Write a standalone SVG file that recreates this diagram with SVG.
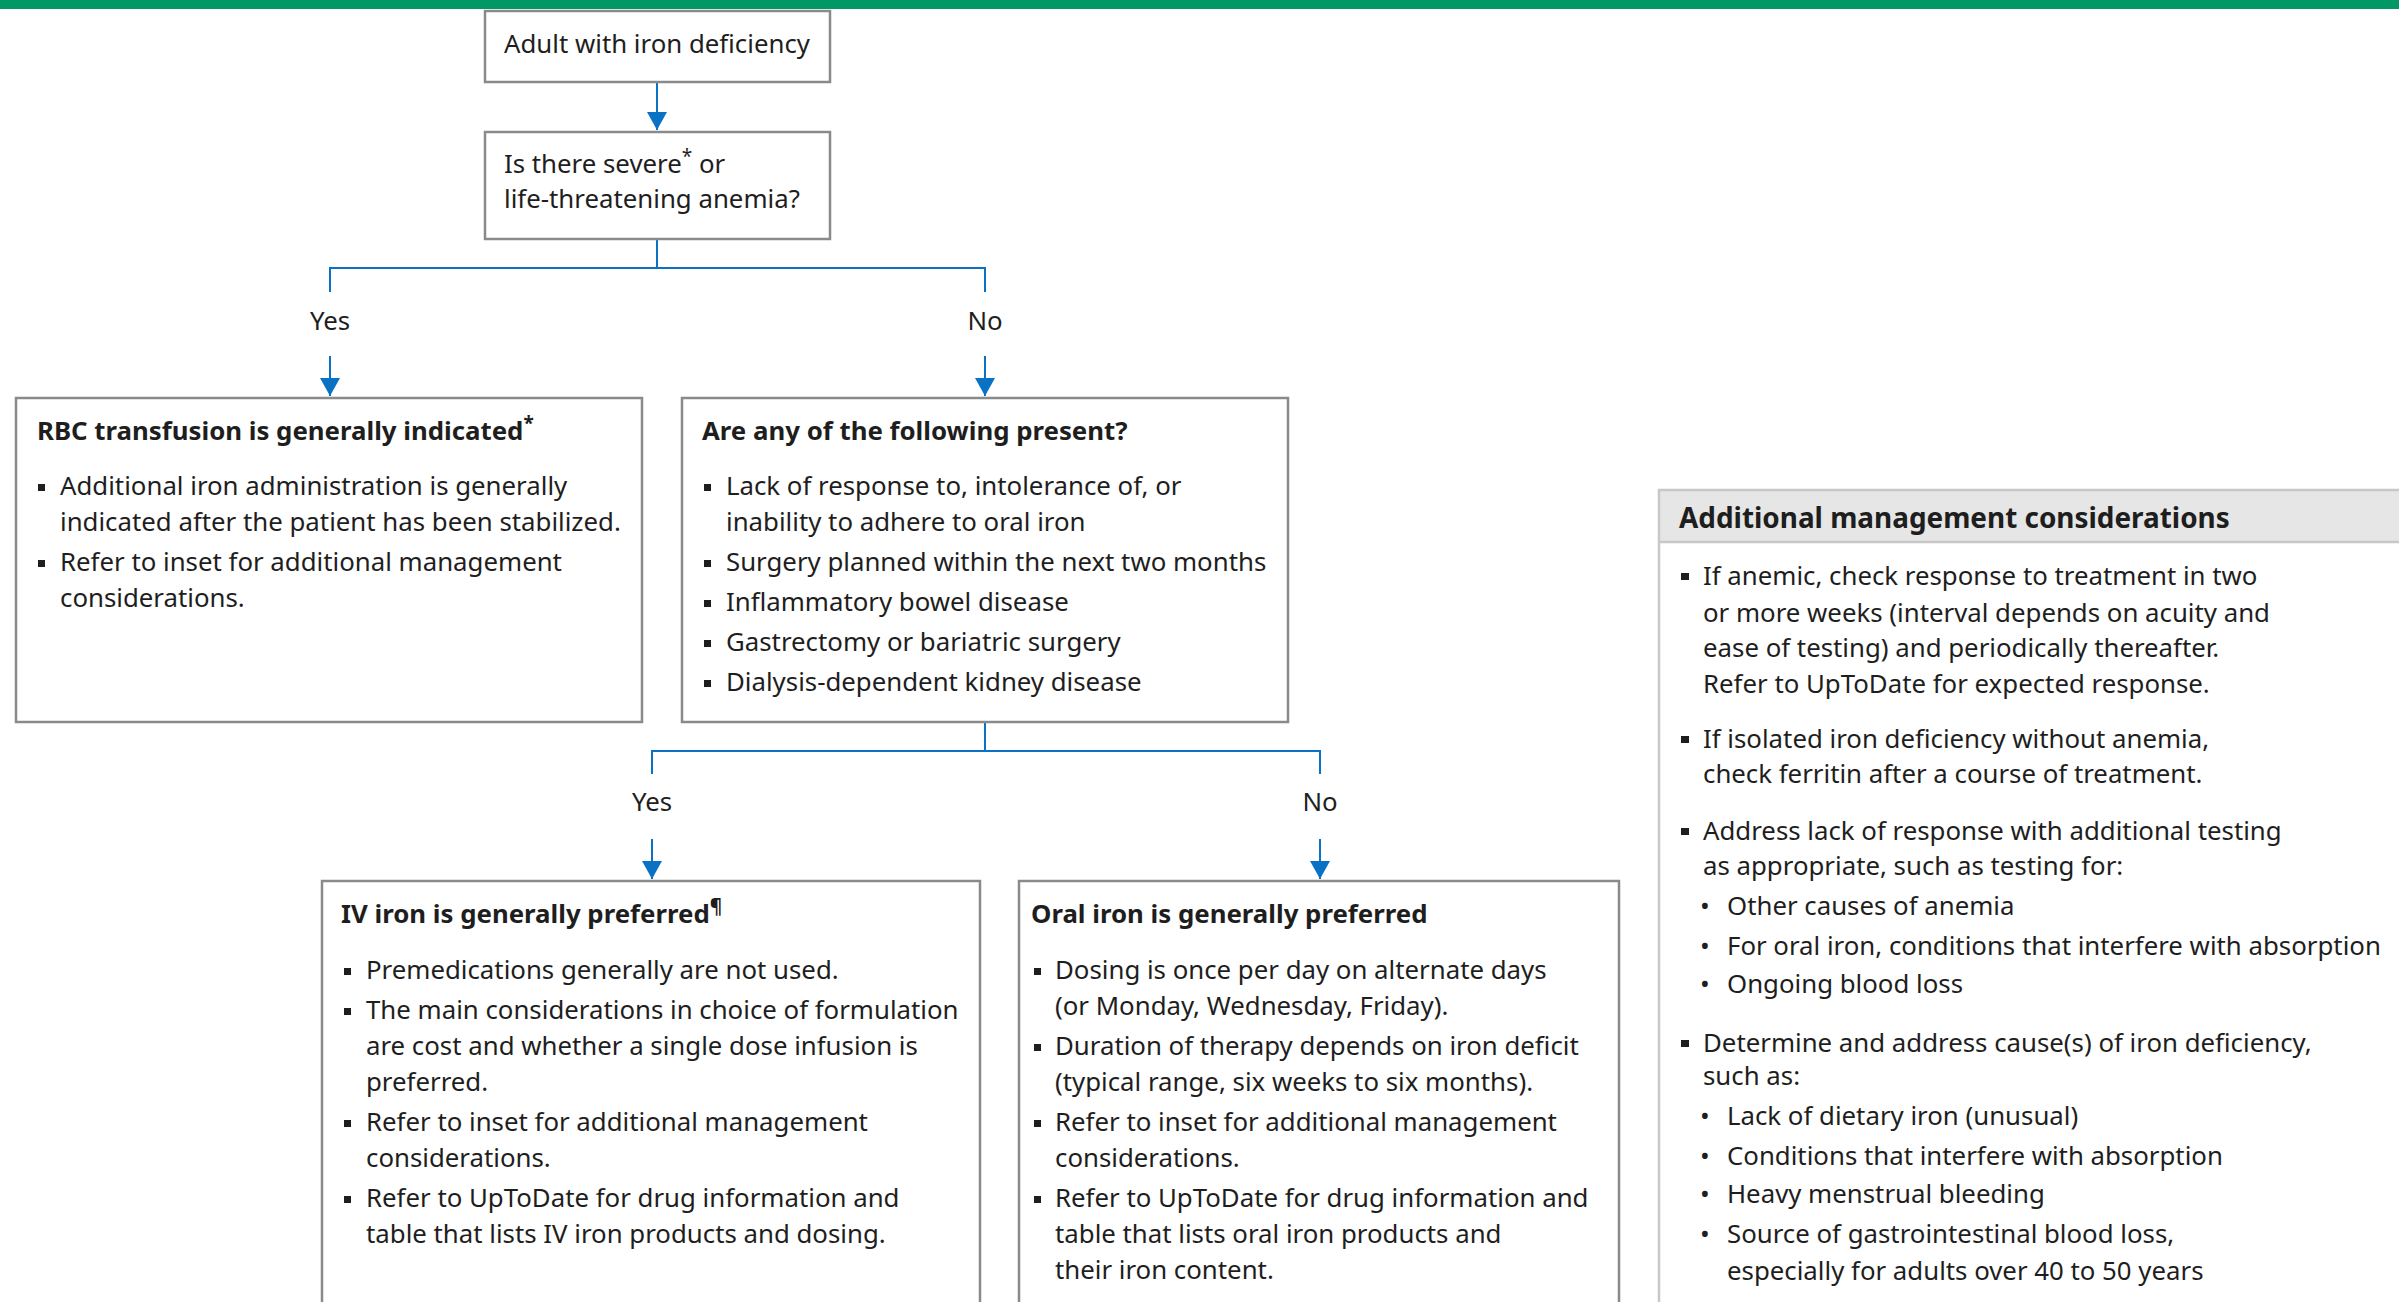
<svg xmlns="http://www.w3.org/2000/svg" width="2399" height="1302" viewBox="0 0 2399 1302">
<style>
text{font-family:"Noto Sans","Open Sans","DejaVu Sans",sans-serif;fill:#1e1e1e;font-size:25.8px}
.b{font-weight:bold}
.h{font-weight:bold;font-size:27.9px}
.c{text-anchor:middle}
.box{fill:#fff;stroke:#8a8a8a;stroke-width:2.5}
.con{fill:none;stroke:#0a72c4;stroke-width:2}
.sq{fill:#1e1e1e}
.sup{font-size:19px}
</style>
<defs>
<marker id="ah" markerUnits="userSpaceOnUse" markerWidth="20" markerHeight="20" viewBox="0 0 20 20" refX="18" refY="10" orient="auto">
<path d="M0,0 L18,10 L0,20 z" fill="#0a72c4"/>
</marker>
</defs>
<rect x="0" y="0" width="2399" height="9" fill="#009966"/>
<g id="connectors">
<path class="con" d="M657,83 V130" marker-end="url(#ah)"/>
<path class="con" d="M657,239 V268 M330,292 V268 H985 V292"/>
<path class="con" d="M330,356 V396" marker-end="url(#ah)"/>
<path class="con" d="M985,356 V396" marker-end="url(#ah)"/>
<path class="con" d="M985,722 V751 M652,774 V751 H1320 V774"/>
<path class="con" d="M652,839 V879" marker-end="url(#ah)"/>
<path class="con" d="M1320,839 V879" marker-end="url(#ah)"/>
<text class="c" x="330" y="330">Yes</text>
<text class="c" x="985" y="330">No</text>
<text class="c" x="652" y="811">Yes</text>
<text class="c" x="1320" y="811">No</text>
</g>
<g id="start">
<rect class="box" x="485" y="11" width="345" height="71"/>
<text x="504" y="53">Adult with iron deficiency</text>
</g>
<g id="severe">
<rect class="box" x="485" y="132" width="345" height="107"/>
<text x="504" y="173">Is there severe<tspan class="sup" dy="-10">*</tspan><tspan dy="10"> or</tspan></text>
<text x="504" y="208">life-threatening anemia?</text>
</g>
<g id="rbc">
<rect class="box" x="16" y="398" width="626" height="324"/>
<text class="b" x="37" y="440">RBC transfusion is generally indicated<tspan class="sup" dy="-10">*</tspan></text>
<rect class="sq" x="38" y="484" width="7" height="7"/>
<text x="60" y="495">Additional iron administration is generally</text>
<text x="60" y="531">indicated after the patient has been stabilized.</text>
<rect class="sq" x="38" y="560" width="7" height="7"/>
<text x="60" y="571">Refer to inset for additional management</text>
<text x="60" y="607">considerations.</text>
</g>
<g id="present">
<rect class="box" x="682" y="398" width="606" height="324"/>
<text class="b" x="702" y="440">Are any of the following present?</text>
<rect class="sq" x="704" y="484" width="7" height="7"/>
<text x="726" y="495">Lack of response to, intolerance of, or</text>
<text x="726" y="531">inability to adhere to oral iron</text>
<rect class="sq" x="704" y="560" width="7" height="7"/>
<text x="726" y="571">Surgery planned within the next two months</text>
<rect class="sq" x="704" y="600" width="7" height="7"/>
<text x="726" y="611">Inflammatory bowel disease</text>
<rect class="sq" x="704" y="640" width="7" height="7"/>
<text x="726" y="651">Gastrectomy or bariatric surgery</text>
<rect class="sq" x="704" y="680" width="7" height="7"/>
<text x="726" y="691">Dialysis-dependent kidney disease</text>
</g>
<g id="iv">
<rect class="box" x="322" y="881" width="658" height="460"/>
<text class="b" x="341" y="923">IV iron is generally preferred<tspan class="sup" dy="-10">¶</tspan></text>
<rect class="sq" x="344" y="968" width="7" height="7"/>
<text x="366" y="979">Premedications generally are not used.</text>
<rect class="sq" x="344" y="1008" width="7" height="7"/>
<text x="366" y="1019">The main considerations in choice of formulation</text>
<text x="366" y="1055">are cost and whether a single dose infusion is</text>
<text x="366" y="1091">preferred.</text>
<rect class="sq" x="344" y="1120" width="7" height="7"/>
<text x="366" y="1131">Refer to inset for additional management</text>
<text x="366" y="1167">considerations.</text>
<rect class="sq" x="344" y="1196" width="7" height="7"/>
<text x="366" y="1207">Refer to UpToDate for drug information and</text>
<text x="366" y="1243">table that lists IV iron products and dosing.</text>
</g>
<g id="oral">
<rect class="box" x="1019" y="881" width="600" height="460"/>
<text class="b" x="1031" y="923">Oral iron is generally preferred</text>
<rect class="sq" x="1034" y="968" width="7" height="7"/>
<text x="1055" y="979">Dosing is once per day on alternate days</text>
<text x="1055" y="1015">(or Monday, Wednesday, Friday).</text>
<rect class="sq" x="1034" y="1044" width="7" height="7"/>
<text x="1055" y="1055">Duration of therapy depends on iron deficit</text>
<text x="1055" y="1091">(typical range, six weeks to six months).</text>
<rect class="sq" x="1034" y="1120" width="7" height="7"/>
<text x="1055" y="1131">Refer to inset for additional management</text>
<text x="1055" y="1167">considerations.</text>
<rect class="sq" x="1034" y="1196" width="7" height="7"/>
<text x="1055" y="1207">Refer to UpToDate for drug information and</text>
<text x="1055" y="1243">table that lists oral iron products and</text>
<text x="1055" y="1279">their iron content.</text>
</g>
<g id="inset">
<rect x="1659" y="490" width="760" height="52" fill="#e6e6e6"/>
<path d="M1659,1310 V490 H2410 M1659,542 H2410" fill="none" stroke="#c8c8c8" stroke-width="2.5"/>
<text class="h" x="1679" y="528">Additional management considerations</text>
<rect class="sq" x="1681" y="573" width="8" height="7"/>
<text x="1703" y="585">If anemic, check response to treatment in two</text>
<text x="1703" y="622">or more weeks (interval depends on acuity and</text>
<text x="1703" y="657">ease of testing) and periodically thereafter.</text>
<text x="1703" y="693">Refer to UpToDate for expected response.</text>
<rect class="sq" x="1681" y="736" width="8" height="7"/>
<text x="1703" y="748">If isolated iron deficiency without anemia,</text>
<text x="1703" y="783">check ferritin after a course of treatment.</text>
<rect class="sq" x="1681" y="828" width="8" height="7"/>
<text x="1703" y="840">Address lack of response with additional testing</text>
<text x="1703" y="875">as appropriate, such as testing for:</text>
<text x="1700" y="915">•</text><text x="1727" y="915">Other causes of anemia</text>
<text x="1700" y="955">•</text><text x="1727" y="955">For oral iron, conditions that interfere with absorption</text>
<text x="1700" y="993">•</text><text x="1727" y="993">Ongoing blood loss</text>
<rect class="sq" x="1681" y="1040" width="8" height="7"/>
<text x="1703" y="1052">Determine and address cause(s) of iron deficiency,</text>
<text x="1703" y="1085">such as:</text>
<text x="1700" y="1125">•</text><text x="1727" y="1125">Lack of dietary iron (unusual)</text>
<text x="1700" y="1165">•</text><text x="1727" y="1165">Conditions that interfere with absorption</text>
<text x="1700" y="1203">•</text><text x="1727" y="1203">Heavy menstrual bleeding</text>
<text x="1700" y="1243">•</text><text x="1727" y="1243">Source of gastrointestinal blood loss,</text>
<text x="1727" y="1280">especially for adults over 40 to 50 years</text>
</g>
</svg>
